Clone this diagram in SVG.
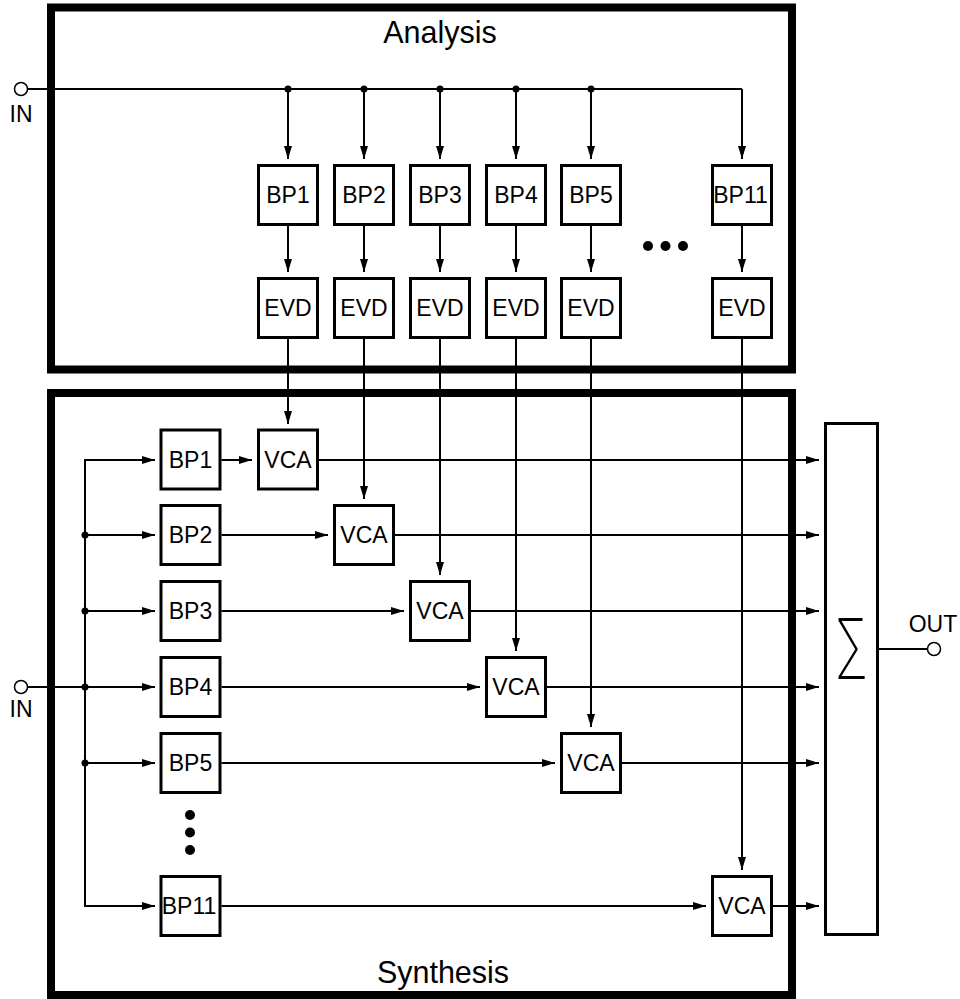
<svg xmlns="http://www.w3.org/2000/svg" width="960" height="999" viewBox="0 0 960 999">
<style>
.frame{fill:none;stroke:#000;stroke-width:8}
.box{fill:#fff;stroke:#000;stroke-width:3}
.lbl{font-family:"Liberation Sans",Arial,sans-serif;font-size:23px;fill:#000;text-anchor:middle}
.title{font-family:"Liberation Sans",Arial,sans-serif;font-size:30.5px;fill:#000;text-anchor:middle}
.w{fill:none;stroke:#000;stroke-width:2}
.a{fill:none;stroke:#000;stroke-width:2;marker-end:url(#ah)}
.dot{fill:#000}
.port{fill:#fff;stroke:#000;stroke-width:1.5}
.sigma{font-family:Inter,"Liberation Sans",sans-serif;font-weight:250;font-size:71px;fill:#000;text-anchor:middle}
</style>
<defs>
<marker id="ah" markerUnits="userSpaceOnUse" markerWidth="14" markerHeight="9" refX="13" refY="4" orient="auto">
<path d="M0,0 L13,4 L0,8 Z" fill="#000"/>
</marker>
</defs>

<g id="analysis">
<rect class="frame" x="51" y="7.5" width="741" height="362"/>
<text class="title" x="440" y="43">Analysis</text>
</g>
<g id="synthesis">
<rect class="frame" x="51" y="393" width="741" height="602"/>
<text class="title" x="443" y="983">Synthesis</text>
</g>

<g id="connectors">
<path class="w" d="M27.5,89 H742"/>
<path class="a" d="M288,89 V159"/>
<path class="a" d="M364,89 V159"/>
<path class="a" d="M440,89 V159"/>
<path class="a" d="M516,89 V159"/>
<path class="a" d="M591,89 V159"/>
<path class="a" d="M742,89 V159"/>
<circle class="dot" cx="288" cy="89" r="3.5"/>
<circle class="dot" cx="364" cy="89" r="3.5"/>
<circle class="dot" cx="440" cy="89" r="3.5"/>
<circle class="dot" cx="516" cy="89" r="3.5"/>
<circle class="dot" cx="591" cy="89" r="3.5"/>
<path class="a" d="M288,226 V272"/>
<path class="a" d="M364,226 V272"/>
<path class="a" d="M440,226 V272"/>
<path class="a" d="M516,226 V272"/>
<path class="a" d="M591,226 V272"/>
<path class="a" d="M742,226 V272"/>
<path class="a" d="M288,339 V424"/>
<path class="a" d="M364,339 V499"/>
<path class="a" d="M440,339 V575"/>
<path class="a" d="M516,339 V651"/>
<path class="a" d="M591,339 V727"/>
<path class="a" d="M742,339 V870"/>
<path class="w" d="M27.5,687 H85"/>
<path class="w" d="M155,460 H85 V906 H155"/>
<path class="a" d="M85,460 H155"/>
<path class="a" d="M85,535 H155"/>
<path class="a" d="M85,611 H155"/>
<path class="a" d="M85,687 H155"/>
<path class="a" d="M85,763 H155"/>
<path class="a" d="M85,906 H155"/>
<circle class="dot" cx="85" cy="535" r="3.5"/>
<circle class="dot" cx="85" cy="611" r="3.5"/>
<circle class="dot" cx="85" cy="687" r="3.5"/>
<circle class="dot" cx="85" cy="763" r="3.5"/>
<path class="a" d="M221.5,460 H252"/>
<path class="a" d="M221.5,535 H328"/>
<path class="a" d="M221.5,611 H404"/>
<path class="a" d="M221.5,687 H480"/>
<path class="a" d="M221.5,763 H555"/>
<path class="a" d="M221.5,906 H706"/>
<path class="a" d="M319,460 H819"/>
<path class="a" d="M395,535 H819"/>
<path class="a" d="M471,611 H819"/>
<path class="a" d="M547,687 H819"/>
<path class="a" d="M622,763 H819"/>
<path class="a" d="M773,906 H819"/>
<path class="w" d="M879,649 H927.5"/>
</g>

<g id="in-top">
<circle class="port" cx="21" cy="89" r="6.5"/>
<text class="lbl" x="21" y="122">IN</text>
</g>
<g id="in-bottom">
<circle class="port" cx="21" cy="687" r="6.5"/>
<text class="lbl" x="21" y="717">IN</text>
</g>
<g id="out">
<circle class="port" cx="934" cy="649" r="6.5"/>
<text class="lbl" x="933" y="632">OUT</text>
</g>

<g id="a-bp1"><rect class="box" x="258.5" y="165.5" width="59" height="59"/><text class="lbl" x="288" y="203">BP1</text></g>
<g id="a-bp2"><rect class="box" x="334.5" y="165.5" width="59" height="59"/><text class="lbl" x="364" y="203">BP2</text></g>
<g id="a-bp3"><rect class="box" x="410.5" y="165.5" width="59" height="59"/><text class="lbl" x="440" y="203">BP3</text></g>
<g id="a-bp4"><rect class="box" x="486.5" y="165.5" width="59" height="59"/><text class="lbl" x="516" y="203">BP4</text></g>
<g id="a-bp5"><rect class="box" x="561.5" y="165.5" width="59" height="59"/><text class="lbl" x="591" y="203">BP5</text></g>
<g id="a-bp11"><rect class="box" x="712.5" y="165.5" width="59" height="59"/><text class="lbl" x="740.5" y="203">BP11</text></g>
<g id="a-ellipsis"><circle class="dot" cx="648" cy="246" r="5"/><circle class="dot" cx="665.5" cy="246" r="5"/><circle class="dot" cx="683" cy="246" r="5"/></g>

<g id="a-evd1"><rect class="box" x="258.5" y="278.5" width="59" height="59"/><text class="lbl" x="288" y="316">EVD</text></g>
<g id="a-evd2"><rect class="box" x="334.5" y="278.5" width="59" height="59"/><text class="lbl" x="364" y="316">EVD</text></g>
<g id="a-evd3"><rect class="box" x="410.5" y="278.5" width="59" height="59"/><text class="lbl" x="440" y="316">EVD</text></g>
<g id="a-evd4"><rect class="box" x="486.5" y="278.5" width="59" height="59"/><text class="lbl" x="516" y="316">EVD</text></g>
<g id="a-evd5"><rect class="box" x="561.5" y="278.5" width="59" height="59"/><text class="lbl" x="591" y="316">EVD</text></g>
<g id="a-evd11"><rect class="box" x="712.5" y="278.5" width="59" height="59"/><text class="lbl" x="742" y="316">EVD</text></g>

<g id="s-bp1"><rect class="box" x="161" y="430" width="59" height="59"/><text class="lbl" x="190.5" y="468">BP1</text></g>
<g id="s-bp2"><rect class="box" x="161" y="505.5" width="59" height="59"/><text class="lbl" x="190.5" y="543">BP2</text></g>
<g id="s-bp3"><rect class="box" x="161" y="581.5" width="59" height="59"/><text class="lbl" x="190.5" y="619">BP3</text></g>
<g id="s-bp4"><rect class="box" x="161" y="657.5" width="59" height="59"/><text class="lbl" x="190.5" y="695">BP4</text></g>
<g id="s-bp5"><rect class="box" x="161" y="733.5" width="59" height="59"/><text class="lbl" x="190.5" y="771">BP5</text></g>
<g id="s-bp11"><rect class="box" x="161" y="876.5" width="59" height="59"/><text class="lbl" x="189" y="914">BP11</text></g>
<g id="s-ellipsis"><circle class="dot" cx="190" cy="815" r="5"/><circle class="dot" cx="190" cy="832.5" r="5"/><circle class="dot" cx="190" cy="850" r="5"/></g>

<g id="s-vca1"><rect class="box" x="258.5" y="430" width="59" height="59"/><text class="lbl" x="288" y="468">VCA</text></g>
<g id="s-vca2"><rect class="box" x="334.5" y="505.5" width="59" height="59"/><text class="lbl" x="364" y="543">VCA</text></g>
<g id="s-vca3"><rect class="box" x="410.5" y="581.5" width="59" height="59"/><text class="lbl" x="440" y="619">VCA</text></g>
<g id="s-vca4"><rect class="box" x="486.5" y="657.5" width="59" height="59"/><text class="lbl" x="516" y="695">VCA</text></g>
<g id="s-vca5"><rect class="box" x="561.5" y="733.5" width="59" height="59"/><text class="lbl" x="591" y="771">VCA</text></g>
<g id="s-vca11"><rect class="box" x="712.5" y="876.5" width="59" height="59"/><text class="lbl" x="742" y="914">VCA</text></g>

<g id="sum">
<rect class="box" x="825.5" y="423.5" width="52" height="511"/>
<text class="sigma" x="0" y="670" transform="translate(852 0) scale(0.68 1)">∑</text>
</g>
</svg>
